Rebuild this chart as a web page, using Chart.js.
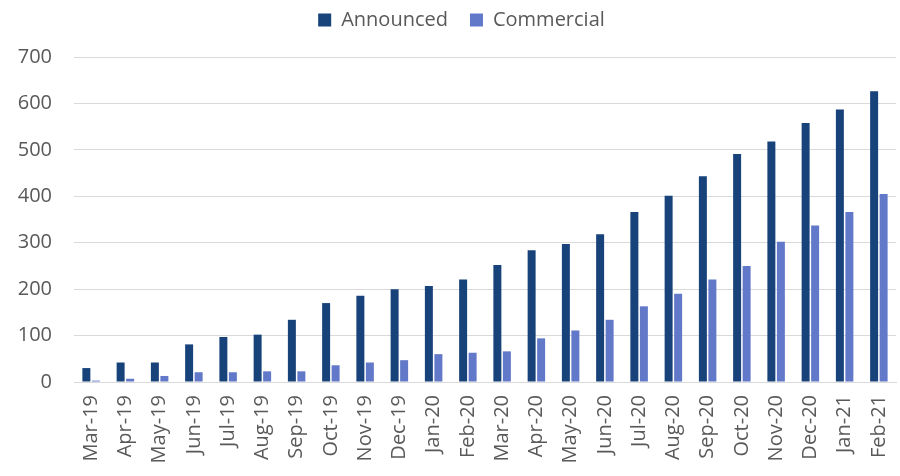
<!DOCTYPE html>
<html>
<head>
<meta charset="utf-8">
<script src="https://cdn.jsdelivr.net/npm/chart.js@4.4.1/dist/chart.umd.min.js"></script>
<style>
  html, body { margin: 0; padding: 0; background: #ffffff; }
  #wrap { width: 900px; height: 476px; position: relative; }
</style>
</head>
<body>
<div id="wrap"><canvas id="c"></canvas></div>
<script>
const categories = ["Mar-19","Apr-19","May-19","Jun-19","Jul-19","Aug-19","Sep-19","Oct-19","Nov-19","Dec-19","Jan-20","Feb-20","Mar-20","Apr-20","May-20","Jun-20","Jul-20","Aug-20","Sep-20","Oct-20","Nov-20","Dec-20","Jan-21","Feb-21"];
const announced = [30, 42, 42, 81, 97, 102, 134, 170, 186, 200, 207, 221, 252, 284, 297, 318, 366, 401, 443, 491, 518, 558, 587, 626];
const commercial = [3, 7, 13, 21, 21, 23, 23, 36, 42, 47, 60, 63, 66, 94, 111, 134, 163, 190, 221, 250, 302, 337, 366, 405];
const yTicks = [0, 100, 200, 300, 400, 500, 600, 700];

const FONT = "'Open Sans', 'Noto Sans', sans-serif";
const TEXT = "#595959";

const legendGap = {
  id: 'legendGap',
  beforeInit(chart) {
    const origFit = chart.legend.fit;
    chart.legend.fit = function () {
      origFit.bind(chart.legend)();
      this.height += 17;
    };
  },
  afterLayout(chart) {
    chart.legend.left += 5;
    chart.legend.right += 5;
  }
};

new Chart(document.getElementById('c'), {
  type: 'bar',
  data: {
    labels: categories,
    datasets: [
      { label: 'Announced', data: announced, backgroundColor: '#17427A', categoryPercentage: 0.555, barPercentage: 0.84 },
      { label: 'Commercial', data: commercial, backgroundColor: '#6279C9', categoryPercentage: 0.555, barPercentage: 0.84 }
    ]
  },
  plugins: [legendGap],
  options: {
    responsive: true,
    maintainAspectRatio: false,
    animation: false,
    layout: { padding: { left: 17, right: 4, top: -12, bottom: 0 } },
    plugins: {
      legend: {
        position: 'top',
        labels: {
          boxWidth: 13, boxHeight: 13,
          color: TEXT,
          font: { family: FONT, size: 20 },
          padding: 22
        }
      },
      tooltip: { enabled: false }
    },
    scales: {
      x: {
        grid: { display: false, drawTicks: false },
        border: { display: true, color: '#d9d9d9', width: 1 },
        ticks: {
          color: TEXT,
          font: { family: FONT, size: 20 },
          minRotation: 90, maxRotation: 90,
          autoSkip: false,
          padding: 13
        },
        afterFit(axis) { axis.paddingLeft = 0; axis.paddingRight = 0; axis.height = 94; }
      },
      y: {
        min: 0, max: 700,
        afterBuildTicks: (axis) => { axis.ticks = yTicks.map(v => ({ value: v })); },
        grid: { color: '#d9d9d9', lineWidth: 1, drawTicks: false },
        border: { display: false },
        ticks: {
          color: TEXT,
          font: { family: FONT, size: 20 },
          padding: 22
        },
        afterFit(axis) { axis.width = 57; }
      }
    }
  }
});
</script>
</body>
</html>
